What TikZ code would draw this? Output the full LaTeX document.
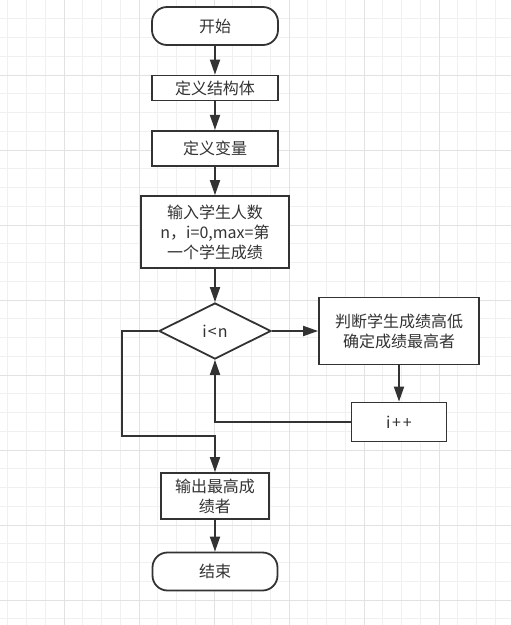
\documentclass[tikz,border=0pt]{standalone}
\usepackage{fontspec}
\usepackage{tikz}
\usetikzlibrary{arrows.meta}
\usetikzlibrary{shapes.geometric}
\newfontfamily\cjk{Noto Sans CJK SC}
\definecolor{ink}{HTML}{333333}
\definecolor{gridlight}{HTML}{F0F0F0}
\definecolor{griddark}{HTML}{E2E2E2}
\tikzset{box/.style = {draw=ink, line width=1.8pt, fill=white, text=ink, inner sep=0,
                       align=center, font=\cjk\fontsize{16}{20}\selectfont}}
\tikzset{term/.style = {box, rounded corners=15pt}}
\tikzset{cond/.style = {box, diamond, aspect=2}}
\tikzset{flow/.style = {draw=ink, line width=1.8pt, -{Triangle[length=15pt,width=10pt]}}}

\begin{document}
\begin{tikzpicture}[x=1pt, y=-1pt]
    \useasboundingbox (0, 0) rectangle (511, 625);
    \fill [white] (0, 0) rectangle (511, 625);

    \foreach \k in {0,...,27} {
      \draw [gridlight, line width=0.8pt] (7.75 + 18.75*\k, 0) -- (7.75 + 18.75*\k, 625);
    }
    \foreach \k in {1,...,33} {
      \draw [gridlight, line width=0.8pt] (0, 18.75*\k) -- (511, 18.75*\k);
    }
    \foreach \k in {0,...,5} {
      \draw [griddark, line width=0.8pt] (64 + 75*\k, 0) -- (64 + 75*\k, 625);
    }
    \foreach \k in {1,...,8} {
      \draw [griddark, line width=0.8pt] (0, 75*\k) -- (511, 75*\k);
    }

    \node [term, minimum width=126pt, minimum height=38pt] (start) at (215, 26) {开始};
    \node [box, minimum width=126pt, minimum height=25pt] (struct) at (215, 88) {定义结构体};
    \node [box, minimum width=126pt, minimum height=35pt] (vars) at (215, 148.3) {定义变量};
    \node [box, minimum width=148pt, minimum height=72pt] (input) at (215, 232)
      {输入学生人数\\n，i=0,max=第\\一个学生成绩};
    \node [cond, minimum width=112pt, minimum height=56pt] (test) at (215, 331) {i\kern1pt<\kern1pt n};
    \node [box, minimum width=160pt, minimum height=67pt] (judge) at (399, 331)
      {判断学生成绩高低\\确定成绩最高者};
    \node [box, minimum width=95pt, minimum height=39pt] (incr) at (399, 422) {i\kern1.5pt+\kern2pt+};
    \node [box, minimum width=108pt, minimum height=46pt] (output) at (215, 496)
      {输出最高成\\绩者};
    \node [term, minimum width=125pt, minimum height=38pt] (stop) at (215, 571.5) {结束};

    \coordinate (exit) at (121.7, 436);

    \draw [flow] (start) -- (struct);
    \draw [flow] (struct) -- (vars);
    \draw [flow] (vars) -- (input);
    \draw [flow] (input) -- (test);
    \draw [flow] (test.east) -- (judge.west);
    \draw [flow] (judge) -- (incr);
    \draw [flow] (incr.west) -| (test.south);
    \draw [flow] (test.west) -| (exit) -| (output.north);
    \draw [flow] (output) -- (stop);
\end{tikzpicture}
\end{document}
